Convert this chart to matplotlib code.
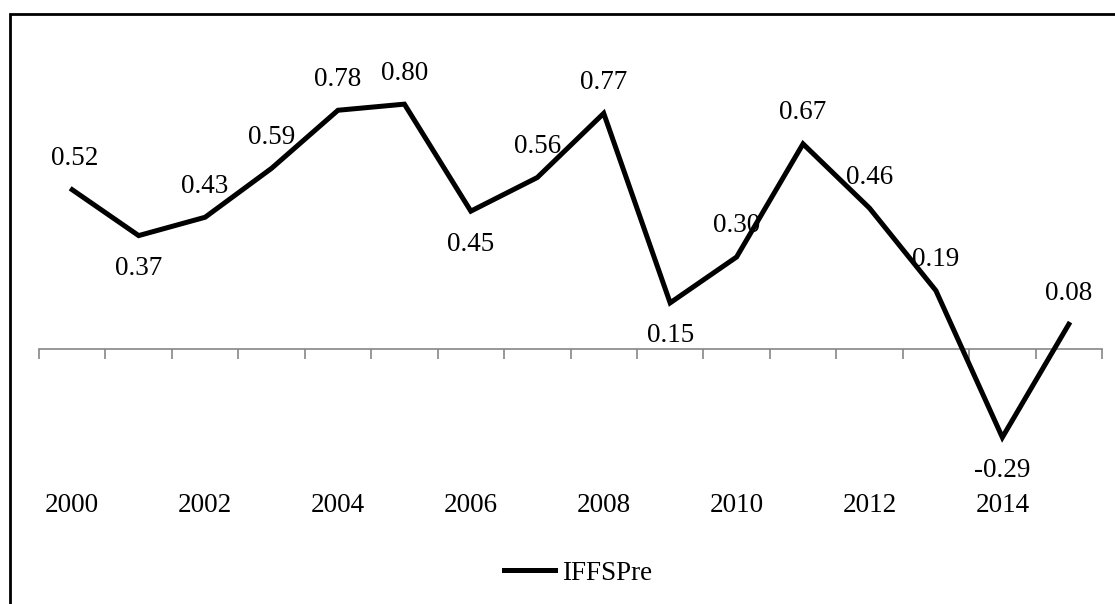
import numpy as np
import matplotlib
matplotlib.use("Agg")
import matplotlib.pyplot as plt
from matplotlib.patches import Rectangle

years = list(range(2000, 2016))
iffspre = [0.52, 0.37, 0.43, 0.59, 0.78, 0.80, 0.45, 0.56, 0.77, 0.15, 0.30, 0.67, 0.46, 0.19, -0.29, 0.08]
label_side = ["up", "down", "up", "up", "up", "up", "down", "up", "up", "down", "up", "up", "up", "up", "down", "up"]

plt.rcParams['font.family'] = ['Liberation Serif', 'DejaVu Serif']

W, H = 1115, 604
fig = plt.figure(figsize=(W / 100, H / 100), dpi=100)
fig.patches.append(Rectangle((10 / W, -0.1), 1.2, 1 - 14 / H + 0.1, transform=fig.transFigure,
                             fill=False, edgecolor='black', linewidth=2, zorder=10))

# plot area: y=0 at 349px, 306px per unit
ax = fig.add_axes([39 / W, 1 - 471 / H, (1102 - 39) / W, (471 - 43) / H])
x = np.arange(len(years))
ax.plot(x, iffspre, color='black', linewidth=3.6, solid_joinstyle='miter', label='IFFSPre', zorder=3)
ax.set_xlim(-0.5, len(years) - 0.5)
ax.set_ylim(-0.4, 1.0)

for s in ['top', 'right', 'left']:
    ax.spines[s].set_visible(False)
ax.spines['bottom'].set_position(('data', 0))
ax.spines['bottom'].set_color('#868686')
ax.spines['bottom'].set_linewidth(1.2)
ax.set_yticks([])
ax.set_xticks(np.arange(-0.5, len(years)))
ax.set_xticklabels([])
ax.tick_params(axis='x', direction='out', length=7, width=1.2, color='#868686')

for i, yr in enumerate(years):
    if yr % 2 == 0:
        ax.annotate(str(yr), xy=(i, 0), xycoords=('data', 'axes fraction'), xytext=(0, -34),
                    textcoords='offset pixels', ha='center', va='center', fontsize=19.5)

for i, v in enumerate(iffspre):
    dy = 31 if label_side[i] == "up" else -33
    ax.annotate(f"{v:.2f}", xy=(i, v), xytext=(2 if i == 0 else 0, dy), textcoords='offset pixels',
                ha='center', va='center', fontsize=19.5)

fig.legend(loc='center', bbox_to_anchor=(578 / W, 1 - 573 / H), frameon=False, fontsize=19.5,
           handlelength=1.9, handletextpad=0.25)

fig.savefig("out.png", dpi=100)
